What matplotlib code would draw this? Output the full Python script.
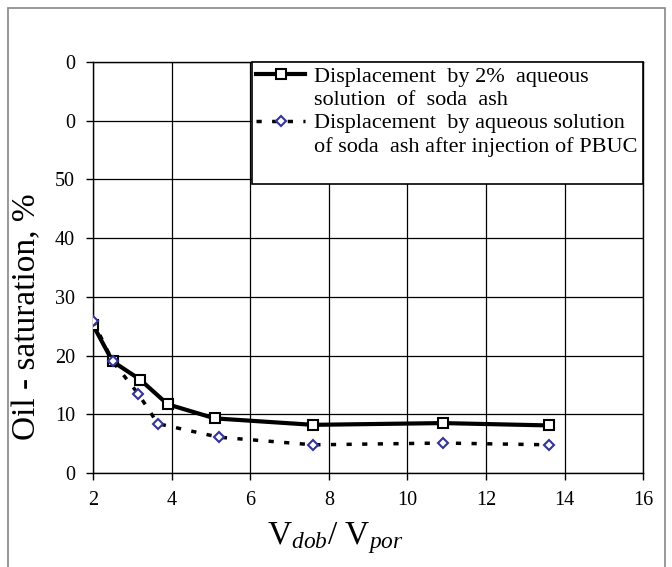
import numpy as np
from matplotlib import pyplot as plt
from matplotlib.lines import Line2D
from matplotlib.patches import Rectangle

# solid curve: 2% soda ash
x_soda = [2.0, 2.5, 3.2, 3.9, 5.1, 7.6, 10.9, 13.6]
y_soda = [25.2, 19.0, 15.9, 11.7, 9.3, 8.2, 8.5, 8.1]
# dotted curve: soda ash after PBUC
x_pbuc = [2.0, 2.5, 3.15, 3.65, 5.2, 7.6, 10.9, 13.6]
y_pbuc = [25.9, 19.0, 13.5, 8.4, 6.1, 4.8, 5.1, 4.8]

y_ticks = [0, 10, 20, 30, 40, 50, 60, 70]
y_ticklabels = ["0", "10", "20", "30", "40", "50", "0", "0"]
x_ticks = [2, 4, 6, 8, 10, 12, 14, 16]

label_soda = ["Displacement  by 2%  aqueous", "solution  of  soda  ash"]
label_pbuc = ["Displacement  by aqueous solution", "of soda  ash after injection of PBUC", " "]

plt.rcParams['font.family'] = 'Liberation Serif'
plt.rcParams['mathtext.fontset'] = 'custom'
plt.rcParams['mathtext.rm'] = 'Liberation Serif'
plt.rcParams['mathtext.it'] = 'Liberation Serif:italic'

fig = plt.figure(figsize=(6.72, 5.67), dpi=100)
ax = fig.add_axes([0.1384, 0.1658, 0.8186, 0.7249])

l1, = ax.plot(x_soda, y_soda, color="black", linewidth=3, marker="s", markersize=7,
              markerfacecolor="white", markeredgecolor="black", markeredgewidth=1.5,
              zorder=3)
l2, = ax.plot(x_pbuc, y_pbuc, color="black", linewidth=2.5, linestyle=(0, (1.5, 3)),
              marker="D", markersize=5.5, markerfacecolor="white",
              markeredgecolor="#333399", markeredgewidth=1.5,
              zorder=4)

ax.set_xlim(2, 16)
ax.set_ylim(0, 70)
ax.set_xticks(x_ticks)
ax.set_yticks(y_ticks)
ax.set_yticklabels(y_ticklabels)
ax.tick_params(labelsize=14.5, direction="out", length=5, width=1, pad=8)
ax.grid(color="black", linewidth=0.9)
ax.set_axisbelow(True)
for s in ax.spines.values():
    s.set_linewidth(1)

ax.set_ylabel("Oil - saturation, %", fontsize=24)
ax.yaxis.set_label_coords(-0.093, 0.38)
ax.set_xlabel(r"V$_{dob}$/ V$_{por}$", fontsize=24)
ax.xaxis.set_label_coords(0.44, -0.115)

blank = Line2D([], [], linestyle="none")
handles = [l1, blank, l2, blank, blank]
labels = label_soda + label_pbuc
leg = ax.legend(handles, labels, loc="upper left", bbox_to_anchor=(0.289, 0, 0.711, 1),
                mode="expand", borderaxespad=0,
                fontsize=16, frameon=True, fancybox=False, framealpha=1,
                edgecolor="black", handlelength=2.2, handletextpad=0.4,
                labelspacing=0.12, borderpad=0.2)
leg.get_frame().set_linewidth(1.2)
leg.set_zorder(10)

fig.patches.append(Rectangle((8 / 672, -0.05), 657 / 672, 1.05 - 8 / 567,
                             transform=fig.transFigure, fill=False,
                             edgecolor="#888888", linewidth=1.2))

fig.savefig("out.png", dpi=100)
